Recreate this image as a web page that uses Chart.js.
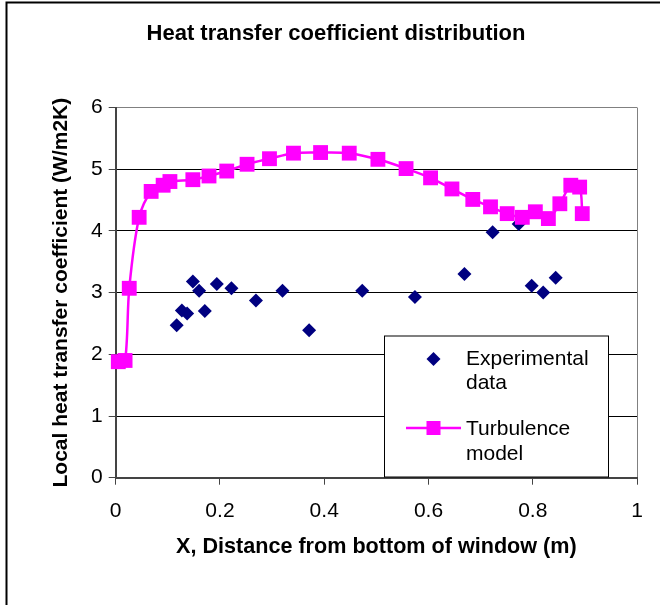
<!DOCTYPE html>
<html>
<head>
<meta charset="utf-8">
<title>Heat transfer coefficient distribution</title>
<script src="https://cdn.jsdelivr.net/npm/chart.js@4/dist/chart.umd.min.js"></script>
<style>
  html, body { margin: 0; padding: 0; background: #fff; }
  #wrap { position: relative; width: 660px; height: 605px; }
</style>
</head>
<body>
<div id="wrap"><canvas id="htcChart"></canvas></div>
<script>
// Experimental data (x in m, h in W/m2K)
var expX = [0.117, 0.127, 0.137, 0.148, 0.160, 0.171, 0.194, 0.222, 0.269, 0.320, 0.371, 0.473, 0.574, 0.669, 0.723, 0.773, 0.798, 0.820, 0.844];
var expY = [2.47, 2.71, 2.66, 3.18, 3.03, 2.70, 3.14, 3.07, 2.87, 3.03, 2.39, 3.03, 2.93, 3.30, 3.98, 4.11, 3.11, 3.00, 3.24];

// Turbulence model
var modelX = [0.005, 0.018, 0.026, 0.045, 0.068, 0.091, 0.104, 0.148, 0.179, 0.213, 0.252, 0.295, 0.341, 0.393, 0.448, 0.503, 0.557, 0.604, 0.645, 0.685, 0.719, 0.751, 0.780, 0.805, 0.830, 0.852, 0.873, 0.890, 0.895];
var modelY = [1.88, 1.90, 3.07, 4.22, 4.64, 4.74, 4.80, 4.83, 4.89, 4.97, 5.08, 5.17, 5.26, 5.27, 5.26, 5.16, 5.01, 4.86, 4.68, 4.51, 4.39, 4.28, 4.22, 4.31, 4.20, 4.44, 4.74, 4.71, 4.28];

// Axis ticks
var xTicks = [0, 0.2, 0.4, 0.6, 0.8, 1];
var yTicks = [0, 1, 2, 3, 4, 5, 6];

var chartTitle = 'Heat transfer coefficient distribution';
var xTitle = 'X, Distance from bottom of window (m)';
var yTitle = 'Local heat transfer coefficient (W/m2K)';
var legendLabels = [['Experimental', 'data'], ['Turbulence', 'model']];

var FONT = '"Liberation Sans", Arial, sans-serif';
var EXP_COLOR = '#000080';
var MODEL_COLOR = '#FF00FF';

var toPoints = function(xs, ys) {
	return xs.map(function(x, i) { return { x: x, y: ys[i] }; });
};

// title, outer frame and the boxed legend
var decorPlugin = {
	id: 'decor',
	afterDraw: function(chart) {
		const ctx = chart.ctx;
		ctx.save();

		// outer frame (left + top only visible)
		ctx.strokeStyle = '#000';
		ctx.lineWidth = 2;
		ctx.beginPath();
		ctx.moveTo(6.5, 610);
		ctx.lineTo(6.5, 2.5);
		ctx.lineTo(665, 2.5);
		ctx.stroke();

		// title
		ctx.fillStyle = '#000';
		ctx.font = 'bold 22px ' + FONT;
		ctx.textAlign = 'center';
		ctx.textBaseline = 'middle';
		ctx.fillText(chartTitle, 336, 34);

		// legend box
		ctx.fillStyle = '#fff';
		ctx.fillRect(384.5, 336, 224, 141);
		ctx.strokeStyle = '#000';
		ctx.lineWidth = 1;
		ctx.strokeRect(384.5, 336, 224, 141);

		// experimental marker
		ctx.fillStyle = EXP_COLOR;
		ctx.beginPath();
		ctx.moveTo(433.5, 352);
		ctx.lineTo(440.5, 359);
		ctx.lineTo(433.5, 366);
		ctx.lineTo(426.5, 359);
		ctx.closePath();
		ctx.fill();

		// model marker
		ctx.strokeStyle = MODEL_COLOR;
		ctx.lineWidth = 2.5;
		ctx.beginPath();
		ctx.moveTo(406, 428);
		ctx.lineTo(461, 428);
		ctx.stroke();
		ctx.fillStyle = MODEL_COLOR;
		ctx.fillRect(426.5, 421, 14, 14);

		ctx.fillStyle = '#000';
		ctx.font = '21px ' + FONT;
		ctx.textAlign = 'left';
		ctx.fillText(legendLabels[0][0], 466, 359);
		ctx.fillText(legendLabels[0][1], 466, 383);
		ctx.fillText(legendLabels[1][0], 466, 429);
		ctx.fillText(legendLabels[1][1], 466, 454);
		ctx.restore();
	}
};

const ctx = document.getElementById('htcChart').getContext('2d');
const htcChart = new Chart(ctx, {
	type: 'scatter',
	data: {
		datasets: [{
			label: 'Turbulence model',
			data: toPoints(modelX, modelY),
			showLine: true,
			borderColor: MODEL_COLOR,
			borderWidth: 2.5,
			tension: 0.3,
			pointStyle: 'rect',
			pointRadius: 10.5,
			pointBackgroundColor: MODEL_COLOR,
			pointBorderColor: MODEL_COLOR,
			pointBorderWidth: 0,
			clip: false
		}, {
			label: 'Experimental data',
			data: toPoints(expX, expY),
			showLine: false,
			pointStyle: 'rectRot',
			pointRadius: 7,
			pointBackgroundColor: EXP_COLOR,
			pointBorderColor: EXP_COLOR,
			pointBorderWidth: 0,
			clip: false
		}]
	},
	options: {
		responsive: true,
		maintainAspectRatio: false,
		animation: false,
		devicePixelRatio: 1,
		layout: {
			padding: { left: 0, right: 23, top: 107.5, bottom: 0 }
		},
		plugins: {
			legend: { display: false },
			title: { display: false },
			tooltip: { enabled: false }
		},
		scales: {
			x: {
				type: 'linear',
				min: 0,
				max: 1,
				afterBuildTicks: function(scale) {
					scale.ticks = xTicks.map(function(v) { return { value: v }; });
				},
				afterFit: function(scale) { scale.height = 127.3; },
				border: { color: '#444', width: 2 },
				grid: {
					color: function(c) { return c.tick && c.tick.value === 1 ? '#808080' : 'rgba(0,0,0,0)'; },
					tickColor: '#444',
					tickLength: 7,
					lineWidth: 1
				},
				ticks: {
					color: '#000',
					padding: 14,
					maxRotation: 0,
					font: { family: FONT, size: 21 },
					callback: function(v) { return String(v); }
				},
				title: {
					display: true,
					text: xTitle,
					color: '#000',
					font: { family: FONT, size: 21.6, weight: 'bold' },
					padding: { top: 0, bottom: 45 }
				}
			},
			y: {
				type: 'linear',
				min: 0,
				max: 6,
				afterBuildTicks: function(scale) {
					scale.ticks = yTicks.map(function(v) { return { value: v }; });
				},
				afterFit: function(scale) { scale.width = 115.7; },
				border: { color: '#444', width: 2 },
				grid: {
					color: function(c) {
						if (!c.tick) return '#000';
						if (c.tick.value === 6) return '#808080';
						if (c.tick.value === 0) return 'rgba(0,0,0,0)';
						return '#000';
					},
					tickColor: '#444',
					tickLength: 7,
					lineWidth: 1
				},
				ticks: {
					color: '#000',
					padding: 6,
					font: { family: FONT, size: 21 }
				},
				title: {
					display: true,
					text: yTitle,
					color: '#000',
					font: { family: FONT, size: 21, weight: 'bold' },
					padding: { top: 49, bottom: 0 }
				}
			}
		}
	},
	plugins: [decorPlugin]
});
</script>
</body>
</html>
